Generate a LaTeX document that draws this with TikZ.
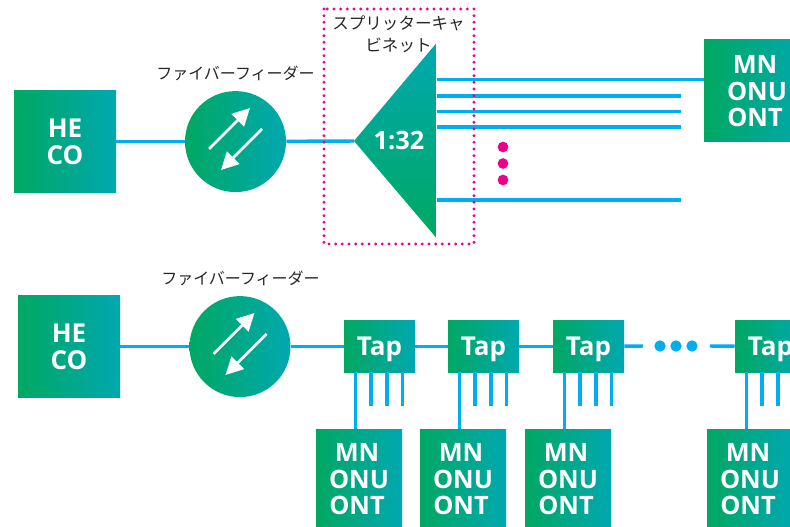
\documentclass[tikz,border=0pt]{standalone}
\usepackage{fontspec}
\setmainfont{Open Sans}
\newfontfamily\jpfont{Noto Sans CJK JP}
\usetikzlibrary{arrows.meta}

\definecolor{nodegreen}{HTML}{00A862}
\definecolor{nodeteal}{HTML}{00A8B0}
\definecolor{fibrecyan}{HTML}{00AEEF}
\definecolor{cabinetpink}{HTML}{EC008C}

\newcommand{\mnlabel}{\rule{0pt}{14.5pt}MN\hspace*{3pt}\\ONU\hspace*{3pt}\\ONT\hspace*{3pt}}

\tikzset{
  gradnode/.style={left color=nodegreen, right color=nodeteal, text=white, inner sep=0pt, align=center,
    yshift=-0.45pt, font=\fontsize{19}{20}\selectfont\bfseries},
  hebox/.style={gradnode, minimum width=76.5pt, minimum height=76.5pt,
    font=\fontsize{19.5}{20}\selectfont\bfseries},
  feeder/.style={gradnode, circle, minimum size=75.75pt},
  tapbox/.style={gradnode, minimum width=53.25pt, minimum height=39pt, text height=14pt, text depth=0.5pt,
    font=\fontsize{19.5}{20}\selectfont\bfseries},
  mnbox/.style={gradnode, minimum width=64.5pt},
  fibre/.style={fibrecyan, line width=2.6pt},
  flowarrow/.style={white, line width=2pt, -{Triangle[length=13pt, width=13pt]}},
  jplabel/.style={black!85, align=center, font=\jpfont\fontsize{12}{16.5}\selectfont},
  pinkdot/.style={circle, fill=cabinetpink, minimum size=8pt, inner sep=0pt},
  cyandot/.style={circle, fill=fibrecyan, minimum size=8.5pt, inner sep=0pt},
}

\begin{document}
\begin{tikzpicture}[x=0.75pt, y=-0.75pt]
\useasboundingbox (0,0) rectangle (790,527);
\clip (0,0) rectangle (790,527);

% head end and feeder, both rows
\foreach \name/\hx/\fx/\ry in {A/65/235.5/141, B/69/240/346} {
  \node[hebox] (heco\name) at (\hx,\ry) {HE\\CO};
  \node[feeder] (feeder\name) at (\fx,\ry) {};
  \draw[fibre] (heco\name) -- (feeder\name);
  \draw[flowarrow] (\fx-26.5,\ry+8) -- (\fx+14.5,\ry-33);
  \draw[flowarrow] (\fx+26.5,\ry-12) -- (\fx-14.5,\ry+29);
}
\node[jplabel] (labelA) at (235.5,73) {ファイバーフィーダー};
\node[jplabel] (labelB) at (240.5,278) {ファイバーフィーダー};

% splitter
\coordinate (apex) at (354,141);
\coordinate (basetop) at (436.5,43);
\coordinate (basebot) at (436.5,238);
\draw[fibre] (feederA) -- (apex);
\shade[top color=nodeteal, bottom color=nodegreen] (apex) -- (basetop) -- (basebot) -- cycle;
\node[text=white, font=\fontsize{19}{20}\selectfont\bfseries] (ratio) at (399,140) {1:32};
\node[jplabel, font=\jpfont\fontsize{12.4}{16.5}\selectfont] (cabinet) at (398.5,34) {スプリッターキャ\\ビネット};

% outputs
\node[mnbox, minimum width=79.5pt, minimum height=76.5pt] (mnTop) at (757,90) {\mnlabel};
\coordinate (portA) at (436.5,79.5);
\draw[fibre] (portA) -- (portA -| mnTop.west);
\foreach \name/\py in {B/96, C/111.5, D/127, E/200} {
  \coordinate (port\name) at (436.5,\py);
  \coordinate (end\name) at (681,\py);
  \draw[fibre] (port\name) -- (end\name);
}
\node[pinkdot] (dotA) at (503,147) {};
\node[pinkdot] (dotB) at (503,163.5) {};
\node[pinkdot] (dotC) at (503,180) {};

% cabinet outline
\draw[cabinetpink, line width=2.4pt, line cap=round, dash pattern=on 0pt off 5pt]
  (324,9) rectangle (474,244);

% taps
\foreach \name/\tx in {A/344, B/448, C/553, D/735} {
  \node[tapbox] (tap\name) at (\tx+35.5,346) {Tap};
  \node[mnbox, minimum height=73.5pt] (mn\name) at (\tx+15,478) {\mnlabel};
  \coordinate (drop\name) at (\tx+11.5,372);
  \draw[fibre] (drop\name) -- (drop\name |- mn\name.north);
  \foreach \off/\stub in {27/a, 43/b, 58.5/c} {
    \coordinate (stub\name\stub) at (\tx+\off,372);
    \coordinate (stubend\name\stub) at (\tx+\off,406);
    \draw[fibre] (stub\name\stub) -- (stubend\name\stub);
  }
}
\draw[fibre] (feederB) -- (tapA);
\draw[fibre] (tapA) -- (tapB);
\draw[fibre] (tapB) -- (tapC);

% gap in the row
\coordinate (gapL) at (643,346);
\coordinate (gapR) at (710,346);
\draw[fibre] (tapC) -- (gapL);
\draw[fibre] (gapR) -- (tapD);
\node[cyandot] (gapdotA) at (660,346) {};
\node[cyandot] (gapdotB) at (676,346) {};
\node[cyandot] (gapdotC) at (692,346) {};
\end{tikzpicture}
\end{document}
